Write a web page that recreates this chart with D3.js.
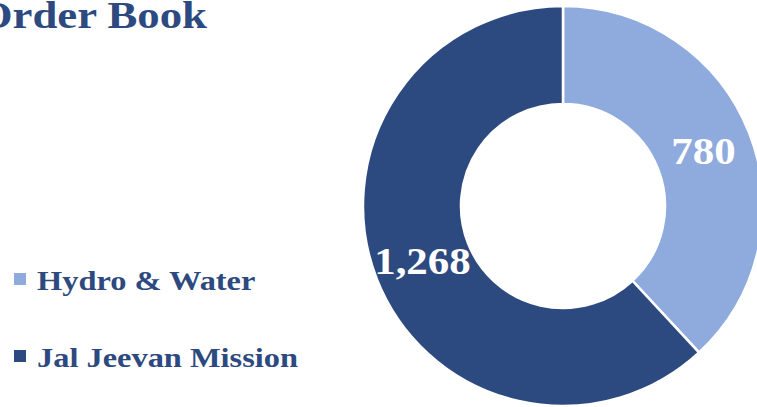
<!DOCTYPE html>
<html>
<head>
<meta charset="utf-8">
<script src="https://cdn.jsdelivr.net/npm/d3@7"></script>
<style>
  html, body { margin: 0; padding: 0; background: #ffffff; overflow: hidden; }
  svg { display: block; }
  text { font-family: "Liberation Serif", "DejaVu Serif", serif; font-weight: bold; }
</style>
</head>
<body>
<svg id="chart" width="757" height="407"></svg>
<script>
// Order book split by segment
const categories = ["Hydro & Water", "Jal Jeevan Mission"];
const values = [780, 1268];
const colors = ["#8FAADC", "#2D4A80"];
const title = "Order Book";

const width = 757, height = 407;
const svg = d3.select("#chart");

const cx = 563, cy = 206, outerR = 200, innerR = 102;
const textColor = "#2D4A80";

// Widen the bold serif glyphs a little so the lettering has a Cambria-like set width
function widen(sel, factor) {
  sel.each(function () {
    const w = this.getComputedTextLength();
    d3.select(this)
      .attr("textLength", w * factor)
      .attr("lengthAdjust", "spacingAndGlyphs");
  });
}

const color = d3.scaleOrdinal().domain(categories).range(colors);
const fmt = d3.format(",");

const data = categories.map((c, i) => ({ category: c, value: values[i] }));

const pie = d3.pie().value(d => d.value).sort(null);
const arc = d3.arc().innerRadius(innerR).outerRadius(outerR);
const labelArc = d3.arc().innerRadius((innerR + outerR) / 2).outerRadius((innerR + outerR) / 2);

const g = svg.append("g").attr("transform", `translate(${cx},${cy})`);
const arcs = pie(data);

g.selectAll("path.slice")
  .data(arcs)
  .join("path")
  .attr("class", "slice")
  .attr("d", arc)
  .attr("fill", d => color(d.data.category))
  .attr("stroke", "#ffffff")
  .attr("stroke-width", 2.5);

g.selectAll("text.value")
  .data(arcs)
  .join("text")
  .attr("class", "value")
  .attr("transform", d => `translate(${labelArc.centroid(d)})`)
  .attr("text-anchor", "middle")
  .attr("dy", "0.35em")
  .attr("fill", "#ffffff")
  .attr("font-size", 37)
  .text(d => fmt(d.data.value))
  .call(widen, 1.16);

// Title, running off the left edge
svg.append("text")
  .attr("x", 207)
  .attr("y", 28)
  .attr("text-anchor", "end")
  .attr("fill", textColor)
  .attr("font-size", 37)
  .text(title)
  .call(widen, 1.21);

// Legend
const legend = svg.append("g").attr("class", "legend");
const rowY = d3.scalePoint().domain(categories).range([279, 356]);

const item = legend.selectAll("g.item")
  .data(categories)
  .join("g")
  .attr("class", "item")
  .attr("transform", d => `translate(0,${rowY(d)})`);

item.append("rect")
  .attr("x", 14)
  .attr("y", -6)
  .attr("width", 12)
  .attr("height", 12)
  .attr("fill", d => color(d));

item.append("text")
  .attr("x", 37)
  .attr("y", 11)
  .attr("fill", textColor)
  .attr("font-size", 27)
  .text(d => d)
  .call(widen, 1.2);
</script>
</body>
</html>
